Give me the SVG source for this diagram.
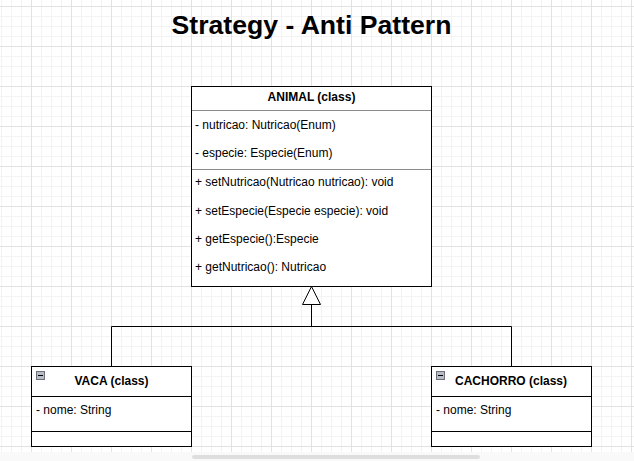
<svg xmlns="http://www.w3.org/2000/svg" width="634" height="461" viewBox="0 0 634 461">
<style>
text{font-family:"Liberation Sans",Arial,sans-serif;font-size:12px;fill:#000}
.b{font-weight:bold}
.c{text-anchor:middle}
.box{fill:#fff;stroke:#000;stroke-width:1}
.sep{stroke:#000;stroke-width:1}
.sepg{stroke:#8c8c8c;stroke-width:1}
.edge{fill:none;stroke:#000;stroke-width:1}
</style>
<defs>
<pattern id="grid" patternUnits="userSpaceOnUse" x="31" y="6" width="40" height="40">
<path d="M10.5 0V40M20.5 0V40M30.5 0V40M0 10.5H40M0 20.5H40M0 30.5H40" stroke="#f3f3f3" stroke-width="1" fill="none"/>
<path d="M0.5 0V40M0 0.5H40" stroke="#e2e2e2" stroke-width="1" fill="none"/>
</pattern>
</defs>
<rect width="634" height="461" fill="#fff"/>
<rect width="634" height="452" fill="url(#grid)"/>
<rect x="0" y="452" width="634" height="9" fill="#f9f9f9"/>
<rect x="192" y="455" width="288" height="4" rx="2" fill="#dedede"/>
<text class="b c" x="311.5" y="34" style="font-size:26.6px">Strategy - Anti Pattern</text>
<g id="connectors">
<path class="edge" d="M111.5 366.5V326.5H511.5V366.5"/>
<path class="edge" d="M311.5 326.5V304.5"/>
<path d="M311.5 286.5L320.5 304.5H302.5Z" fill="#fff" stroke="#000" stroke-width="1"/>
</g>
<g id="animal">
<rect class="box" x="191.5" y="86.5" width="240" height="200"/>
<line class="sepg" x1="192" y1="110.5" x2="431" y2="110.5"/>
<line class="sepg" x1="192" y1="169.5" x2="431" y2="169.5"/>
<text class="b c" x="311.5" y="101">ANIMAL (class)</text>
<text x="195" y="128.5">- nutricao: Nutricao(Enum)</text>
<text x="195" y="157">- especie: Especie(Enum)</text>
<text x="195" y="186">+ setNutricao(Nutricao nutricao): void</text>
<text x="195" y="214.5">+ setEspecie(Especie especie): void</text>
<text x="195" y="242.5">+ getEspecie():Especie</text>
<text x="195" y="271">+ getNutricao(): Nutricao</text>
</g>
<g id="vaca">
<rect class="box" x="31.5" y="366.5" width="160" height="80"/>
<line class="sep" x1="32" y1="396.5" x2="191" y2="396.5"/>
<line class="sep" x1="32" y1="431.5" x2="191" y2="431.5"/>
<rect x="36.5" y="371.5" width="8" height="8" fill="#b8bcc4" stroke="#6d7078"/>
<line x1="38" y1="375.5" x2="43" y2="375.5" stroke="#000"/>
<text class="b c" x="111.5" y="385">VACA (class)</text>
<text x="36" y="414">- nome: String</text>
</g>
<g id="cachorro">
<rect class="box" x="431.5" y="366.5" width="160" height="80"/>
<line class="sep" x1="432" y1="396.5" x2="591" y2="396.5"/>
<line class="sep" x1="432" y1="431.5" x2="591" y2="431.5"/>
<rect x="436.5" y="371.5" width="8" height="8" fill="#b8bcc4" stroke="#6d7078"/>
<line x1="438" y1="375.5" x2="443" y2="375.5" stroke="#000"/>
<text class="b c" x="511" y="385">CACHORRO (class)</text>
<text x="436" y="414">- nome: String</text>
</g>
</svg>
